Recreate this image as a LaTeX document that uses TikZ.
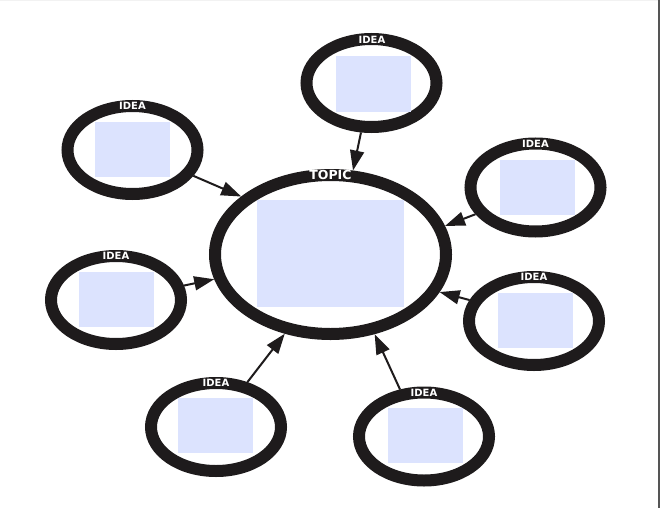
\documentclass[tikz,border=0pt]{standalone}
\usepackage{fontspec}
\setsansfont{DejaVu Sans}
\usetikzlibrary{shapes.geometric, arrows.meta, positioning}
\usepackage{xcolor}
\definecolor{ringBlack}{RGB}{30,27,28}
\definecolor{boxBlue}{RGB}{220,227,254}
\definecolor{edgeGray}{RGB}{85,85,85}

\begin{document}
\begin{tikzpicture}[
    x=1pt, y=-1pt,
    ring/.style={ellipse, draw=ringBlack, line width=12pt, outer sep=6pt, inner sep=0pt, minimum width=130pt, minimum height=88pt},
    topicring/.style={ring, minimum width=231pt, minimum height=159pt},
    box/.style={rectangle, fill=boxBlue, inner sep=0pt, minimum width=75pt, minimum height=55pt},
    tag/.style={font=\sffamily\bfseries\fontsize{10}{10}\selectfont, text=white, inner sep=0pt},
    arrow/.style={-{Triangle[length=20pt, width=14pt]}, line width=2pt, draw=ringBlack}
]
\useasboundingbox (0,0) rectangle (660,508);
\fill[black!5] (0,0) rectangle (658,1.5);
\fill[edgeGray] (658,0) rectangle (660,508);

% central topic
\node[topicring] (topic) at (330.5,254.5) {};
\node[box, minimum width=147pt, minimum height=107pt] (topicbox) at (330.5,253.5) {};
\node[tag, font=\sffamily\bfseries\fontsize{12.5}{12.5}\selectfont] (topictag) at (330.5,175) {TOPIC};

% ideas round it
\node[ring] (idea1) at (371.5,83) {};
\node[box] (box1) at (373,84) {};
\node[tag] (tag1) at (372,40) {IDEA};

\node[ring] (idea2) at (132.5,150) {};
\node[box] (box2) at (132.5,149.5) {};
\node[tag] (tag2) at (132.5,106) {IDEA};

\node[ring] (idea3) at (535.5,187.5) {};
\node[box] (box3) at (537,187.5) {};
\node[tag] (tag3) at (535.5,143.5) {IDEA};

\node[ring] (idea4) at (116,300) {};
\node[box] (box4) at (116,299.5) {};
\node[tag] (tag4) at (116,256) {IDEA};

\node[ring] (idea5) at (534,321) {};
\node[box] (box5) at (535,320) {};
\node[tag] (tag5) at (534,277) {IDEA};

\node[ring] (idea6) at (216,427) {};
\node[box] (box6) at (215.5,425.5) {};
\node[tag] (tag6) at (216,383) {IDEA};

\node[ring] (idea7) at (424,436.5) {};
\node[box] (box7) at (425,435) {};
\node[tag] (tag7) at (424,392.5) {IDEA};

\draw[arrow] (idea1.258) -- (topic.75);
\draw[arrow] (idea2.337) -- (topic.147);
\draw[arrow] (idea3.204) -- (topic.14);
\draw[arrow] (idea4.12) -- (topic.192);
\draw[arrow] (idea5.162) -- (topic.341);
\draw[arrow] (idea6.55) -- (topic.240);
\draw[arrow] (idea7.117) -- (topic.299);

\end{tikzpicture}
\end{document}
